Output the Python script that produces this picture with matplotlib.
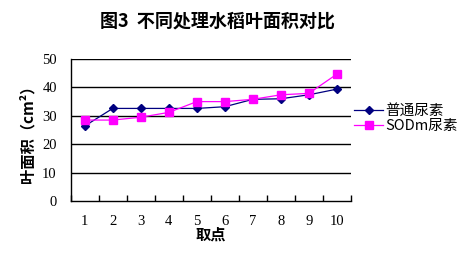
import numpy as np
import matplotlib
matplotlib.use("Agg")
import matplotlib.pyplot as plt

plt.rcParams['font.family'] = ['Noto Sans CJK SC', 'DejaVu Sans']

# datos
puntos = [1, 2, 3, 4, 5, 6, 7, 8, 9, 10]
normal = [26.4, 32.6, 32.6, 32.6, 32.6, 33.2, 35.8, 36.0, 37.4, 39.4]
sodm = [28.5, 28.5, 29.5, 31.2, 35.0, 35.0, 35.8, 37.4, 37.9, 44.7]
y_ticks = [0, 10, 20, 30, 40, 50]

fig = plt.figure(figsize=(4.63, 2.64), dpi=100)
ax = fig.add_axes([0.1527, 0.2386, 0.6053, 0.5379])

ax.plot(puntos, normal, color='#000080', marker='D', markersize=4, lw=0.9,
        label='普通尿素')
ax.plot(puntos, sodm, color='#FF00FF', marker='s', markersize=6, lw=0.9,
        label='SODm尿素')

ax.set_xlim(0.5, 10.5)
ax.set_ylim(0, 50)
ax.set_yticks(y_ticks)
for y in y_ticks[1:]:
    ax.axhline(y, color='black', lw=1, zorder=0)

ax.set_xticks(puntos)
ax.set_xticks(np.arange(0.5, 11, 1), minor=True)
ax.tick_params(axis='x', which='major', length=0, pad=10)
ax.tick_params(axis='x', which='minor', direction='in', length=4, width=1)
ax.tick_params(axis='y', length=0, pad=10)
for lab in ax.get_xticklabels() + ax.get_yticklabels():
    lab.set_fontfamily('Liberation Serif')
    lab.set_fontsize(10.5)

ax.spines['top'].set_visible(False)
ax.spines['right'].set_visible(False)
ax.spines['left'].set_linewidth(1)
ax.spines['bottom'].set_linewidth(1)

ax.set_xlabel('取点', fontsize=11, fontweight='bold', labelpad=-1)
ax.set_ylabel('叶面积（cm²）', fontsize=11, fontweight='bold', labelpad=5)

fig.text(0.47, 0.922, '图3  不同处理水稻叶面积对比', ha='center', va='center',
         fontsize=13, fontweight='bold')

ax.legend(loc='center left', bbox_to_anchor=(0.99, 0.58), frameon=False,
          fontsize=10.5, handlelength=2.0, handletextpad=0.15, labelspacing=0.1,
          borderaxespad=0.0)

fig.savefig('out.png', dpi=100)
